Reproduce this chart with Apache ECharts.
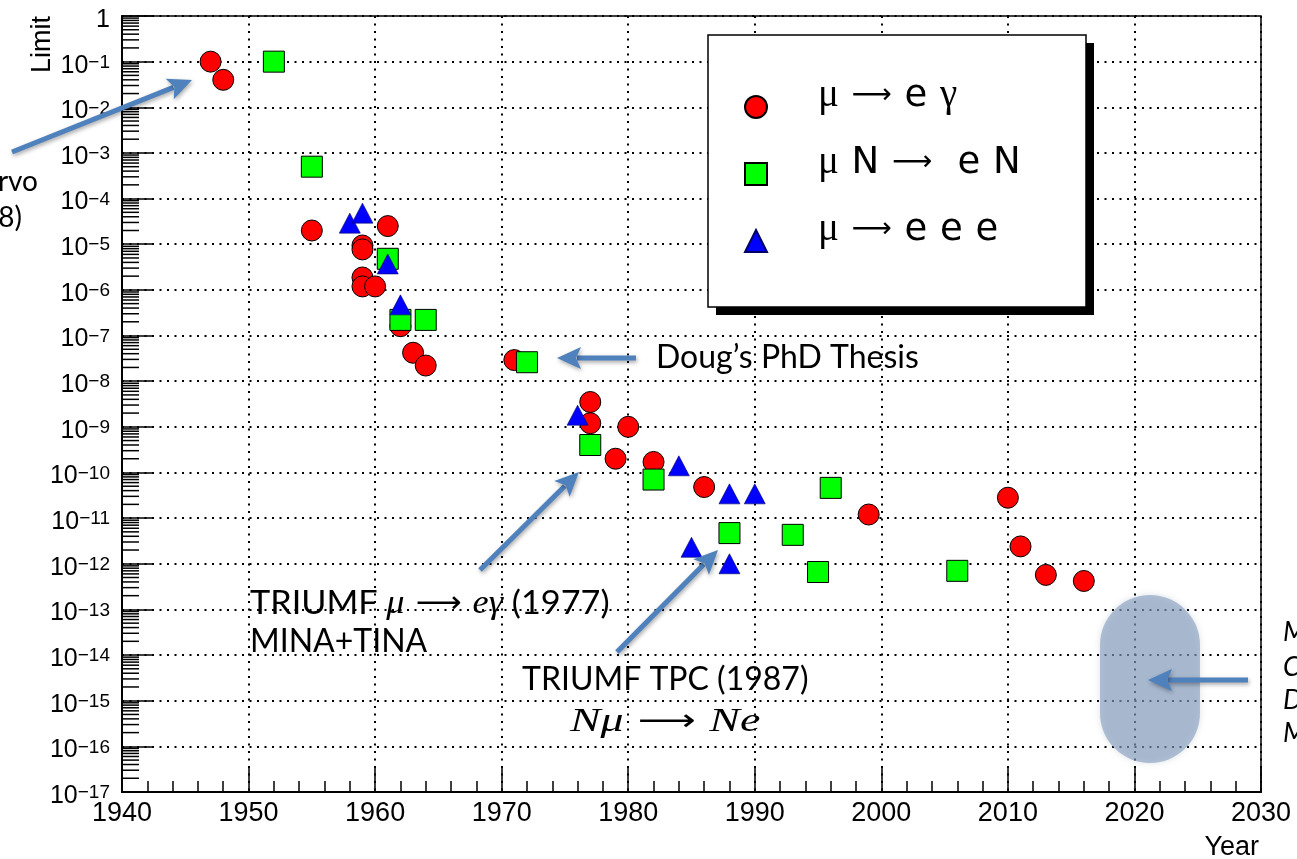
<!DOCTYPE html>
<html><head><meta charset="utf-8">
<script src="https://cdn.jsdelivr.net/npm/echarts@6/dist/echarts.min.js"></script>
<style>html,body{margin:0;padding:0;background:#fff}#c{width:1297px;height:859px}</style>
</head><body><div id="c"></div>
<script>
// ---- data ----
const seriesNames = ['μ → e γ', 'μ N →  e N', 'μ → e e e'];
const megYears  = [1947, 1948, 1955, 1959, 1959, 1959, 1959, 1960, 1961, 1962, 1963, 1964, 1971, 1977, 1977, 1979, 1980, 1982, 1986, 1999, 2010, 2011, 2013, 2016];
const megLimits = [1e-1, 4e-2, 2e-5, 9.4e-6, 7.7e-6, 1.87e-6, 1.19e-6, 1.19e-6, 2.5e-5, 1.6e-7, 4.2e-8, 2.2e-8, 2.9e-8, 3.5e-9, 1.2e-9, 2e-10, 1e-9, 1.7e-10, 4.8e-11, 1.2e-11, 2.8e-11, 2.4e-12, 5.7e-13, 4.2e-13];
const convYears  = [1952, 1955, 1961, 1962, 1964, 1972, 1977, 1982, 1988, 1993, 1995, 1996, 2006];
const convLimits = [1e-1, 5e-4, 4.8e-6, 2.2e-7, 2.2e-7, 2.6e-8, 4e-10, 7e-11, 4.7e-12, 4.3e-12, 6.6e-13, 4.6e-11, 7e-13];
const eeeYears  = [1958, 1959, 1961, 1962, 1976, 1984, 1985, 1988, 1988, 1990];
const eeeLimits = [2.9e-5, 4.8e-5, 3.7e-6, 4.7e-7, 1.8e-9, 1.4e-10, 2.3e-12, 3.4e-11, 1e-12, 3.4e-11];
const yDecades = [-17,-16,-15,-14,-13,-12,-11,-10,-9,-8,-7,-6,-5,-4,-3,-2,-1];
const xMin = 1940, xMax = 2030, xStep = 10;

const zip = (a, b) => a.map((v, i) => [v, b[i]]);
const chart = echarts.init(document.getElementById('c'), null, {renderer: 'canvas'});

const L = 122, T = 16, R = 1261, B = 792;
const arrowColor = '#4f81bd';
function arrow(x1, y1, x2, y2) {
  const dx = x2 - x1, dy = y2 - y1, len = Math.hypot(dx, dy);
  const ux = dx / len, uy = dy / len, px = -uy, py = ux;
  const hl = 24, hw = 11;
  const bx = x2 - ux * hl, by = y2 - uy * hl;
  const sh = {shadowBlur: 4, shadowColor: 'rgba(0,0,0,0.35)', shadowOffsetX: 1, shadowOffsetY: 2};
  return [
    {type: 'line', z: 20, shape: {x1: x1, y1: y1, x2: bx + ux * 4, y2: by + uy * 4}, style: Object.assign({stroke: arrowColor, lineWidth: 5}, sh)},
    {type: 'polygon', z: 21, shape: {points: [[x2, y2], [bx + px * hw, by + py * hw], [bx + ux * 5, by + uy * 5], [bx - px * hw, by - py * hw]]}, style: Object.assign({fill: arrowColor}, sh)}
  ];
}
const annFont = 'Lato';
const mathFont = 'Liberation Serif';
const annRich = {
  t: {fontSize: 32, fontFamily: annFont, fill: '#000'},
  m: {fontSize: 34, fontFamily: mathFont, fontStyle: 'italic', fill: '#000'},
  a: {fontSize: 30, fontFamily: 'DejaVu Sans', fill: '#000'},
  sp: {fontSize: 40, fontFamily: annFont, fill: '#000'}
};
const graphics = [
  // legend box with shadow
  {type: 'rect', z: 3, shape: {x: 716, y: 43, width: 378, height: 272}, style: {fill: '#000'}},
  {type: 'rect', z: 3, shape: {x: 708, y: 35, width: 378, height: 272}, style: {fill: '#fff', stroke: '#000', lineWidth: 1.5}},
  // axis titles
  {type: 'text', z: 10, x: 43, y: 16, rotation: Math.PI / 2, style: {text: 'Limit', fontSize: 27, fontFamily: 'Liberation Sans', fill: '#000', align: 'right', verticalAlign: 'middle'}},
  {type: 'text', z: 10, x: 1259, y: 848, style: {text: 'Year', fontSize: 27, fontFamily: 'Liberation Sans', fill: '#000', align: 'right', verticalAlign: 'middle'}},
  // future experiments region
  {type: 'rect', z: 1, shape: {x: 1100, y: 595, width: 100, height: 168, r: 50}, style: {fill: 'rgba(130,155,190,0.6)', shadowBlur: 6, shadowColor: 'rgba(90,110,140,0.35)'}},
  // annotation texts
  {type: 'text', z: 10, x: 656, y: 358, style: {text: '{t|Doug’s PhD Thesis}', verticalAlign: 'middle', rich: annRich}},
  {type: 'text', z: 10, x: 250, y: 604, scaleX: 1.07, style: {text: '{t|TRIUMF }{m|μ}{sp| }{a|⟶}{sp| }{m|eγ}{t| (1977)}', verticalAlign: 'middle', rich: annRich}},
  {type: 'text', z: 10, x: 250, y: 642, style: {text: '{t|MINA+TINA}', verticalAlign: 'middle', rich: annRich}},
  {type: 'text', z: 10, x: 522, y: 680, style: {text: '{t|TRIUMF TPC (1987)}', verticalAlign: 'middle', rich: annRich}},
  {type: 'text', z: 10, x: 570, y: 722, scaleX: 1.35, style: {text: '{m|Nμ}{sp| }{a|⟶}{sp| }{m|Ne}', verticalAlign: 'middle', rich: annRich}},
  // partially visible side notes
  {type: 'text', z: 10, x: 38, y: 182, style: {text: 'Pontecorvo', fontSize: 28, fontFamily: annFont, fill: '#000', align: 'right', verticalAlign: 'middle'}},
  {type: 'text', z: 10, x: 22, y: 218, style: {text: '(1948)', fontSize: 28, fontFamily: annFont, fill: '#000', align: 'right', verticalAlign: 'middle'}},
  {type: 'text', z: 10, x: 1283, y: 632, style: {text: 'MEG II', fontSize: 27, fontFamily: annFont, fontStyle: 'italic', fill: '#000', verticalAlign: 'middle'}},
  {type: 'text', z: 10, x: 1283, y: 667, style: {text: 'COMET', fontSize: 27, fontFamily: annFont, fontStyle: 'italic', fill: '#000', verticalAlign: 'middle'}},
  {type: 'text', z: 10, x: 1283, y: 700, style: {text: 'DeeMe', fontSize: 27, fontFamily: annFont, fontStyle: 'italic', fill: '#000', verticalAlign: 'middle'}},
  {type: 'text', z: 10, x: 1283, y: 733, style: {text: 'Mu2e', fontSize: 27, fontFamily: annFont, fontStyle: 'italic', fill: '#000', verticalAlign: 'middle'}}
].concat(
  arrow(12, 152, 192, 80),
  arrow(636, 358, 557, 358),
  arrow(480, 570, 579, 472),
  arrow(617, 652, 718, 550),
  arrow(1248, 680, 1148, 680)
);

// legend label: Greek letters in a serif face, long arrow, wide spaces
const richLegend = name => name.split(/([μγ]|→| )/).filter(s => s.length).map(s => {
  if (s === 'μ' || s === 'γ') return '{g|' + s + '}';
  if (s === '→') return '{a|⟶}';
  if (s === ' ') return '{sp| }';
  return '{t|' + s + '}';
}).join('');

const option = {
  animation: false,
  backgroundColor: '#fff',
  grid: {left: L, top: T, width: R - L, height: B - T, show: true, borderColor: '#000', borderWidth: 1.5, backgroundColor: 'transparent'},
  xAxis: {
    type: 'value', min: xMin, max: xMax, interval: xStep,
    axisLine: {show: true, onZero: false, lineStyle: {color: '#000', width: 2}},
    axisTick: {show: true, inside: true, length: 24, lineStyle: {color: '#000', width: 1.5}},
    minorTick: {show: true, splitNumber: 5, length: 11, lineStyle: {color: '#000', width: 1.5}},
    splitLine: {show: true, lineStyle: {color: '#000', width: 2, type: [2, 5.5]}},
    axisLabel: {color: '#000', fontSize: 27, fontFamily: 'Liberation Sans', margin: 8, formatter: v => String(v)}
  },
  yAxis: {
    type: 'log', logBase: 10, min: 1e-17, max: 1, interval: 1, splitNumber: 17,
    axisLine: {show: true, onZero: false, lineStyle: {color: '#000', width: 2}},
    axisTick: {show: true, inside: true, length: 32, lineStyle: {color: '#000', width: 1.5}},
    splitLine: {show: true, lineStyle: {color: '#000', width: 2, type: [2, 5.5]}},
    axisLabel: {
      color: '#000', margin: 12, padding: [8, 0, 0, 0],
      formatter: v => { const n = Math.round(Math.log10(v)); return n === 0 ? '{b|1}' : '{b|10}{s|−' + (-n) + '}'; },
      rich: {
        b: {fontSize: 25, lineHeight: 25, fontFamily: 'Liberation Sans', color: '#000'},
        s: {fontSize: 19, lineHeight: 19, fontFamily: 'Liberation Sans', color: '#000', verticalAlign: 'top'}
      }
    }
  },
  legend: {
    data: seriesNames, orient: 'vertical', left: 744, top: 76, padding: 0,
    itemWidth: 22, itemHeight: 22, itemGap: 5, selectedMode: false, z: 5,
    formatter: richLegend,
    textStyle: {
      fontSize: 36, lineHeight: 40, fontFamily: 'DejaVu Sans', color: '#000', padding: [0, 0, 22, 46],
      rich: {
        t: {fontSize: 37, lineHeight: 40, fontFamily: 'DejaVu Sans', color: '#000'},
        g: {fontSize: 39, lineHeight: 40, fontFamily: 'Liberation Serif', color: '#000'},
        a: {fontSize: 28, lineHeight: 40, fontFamily: 'DejaVu Sans', color: '#000'},
        sp: {fontSize: 40, lineHeight: 40, fontFamily: 'DejaVu Sans', color: '#000'}
      }
    }
  },
  series: [
    {
      type: 'custom', name: 'minorTicksY', silent: true, z: 1, clip: false,
      data: yDecades.map(d => [xMin, Math.pow(10, d)]),
      renderItem: (params, api) => {
        const base = api.value(1);
        const children = [];
        for (let k = 2; k <= 9; k++) {
          const p = api.coord([xMin, base * k]);
          children.push({type: 'line', shape: {x1: p[0], y1: p[1], x2: p[0] + 17, y2: p[1]}, style: {stroke: '#000', lineWidth: 1.5}});
        }
        return {type: 'group', children: children};
      }
    },
    {name: seriesNames[0], type: 'scatter', symbol: 'circle', symbolSize: 21, z: 3, data: zip(megYears, megLimits),
     itemStyle: {color: '#ff0000', borderColor: '#000', borderWidth: 1, opacity: 1}},
    {name: seriesNames[1], type: 'scatter', symbol: 'rect', symbolSize: 21, z: 4, data: zip(convYears, convLimits),
     itemStyle: {color: '#00ff00', borderColor: '#000', borderWidth: 1, opacity: 1}},
    {name: seriesNames[2], type: 'scatter', symbol: 'triangle', symbolSize: [21, 20], z: 5, data: zip(eeeYears, eeeLimits),
     itemStyle: {color: '#0000ff', borderColor: '#000066', borderWidth: 0.6, opacity: 1}}
  ],
  graphic: {elements: graphics}
};
chart.setOption(option);
</script>
</body></html>
